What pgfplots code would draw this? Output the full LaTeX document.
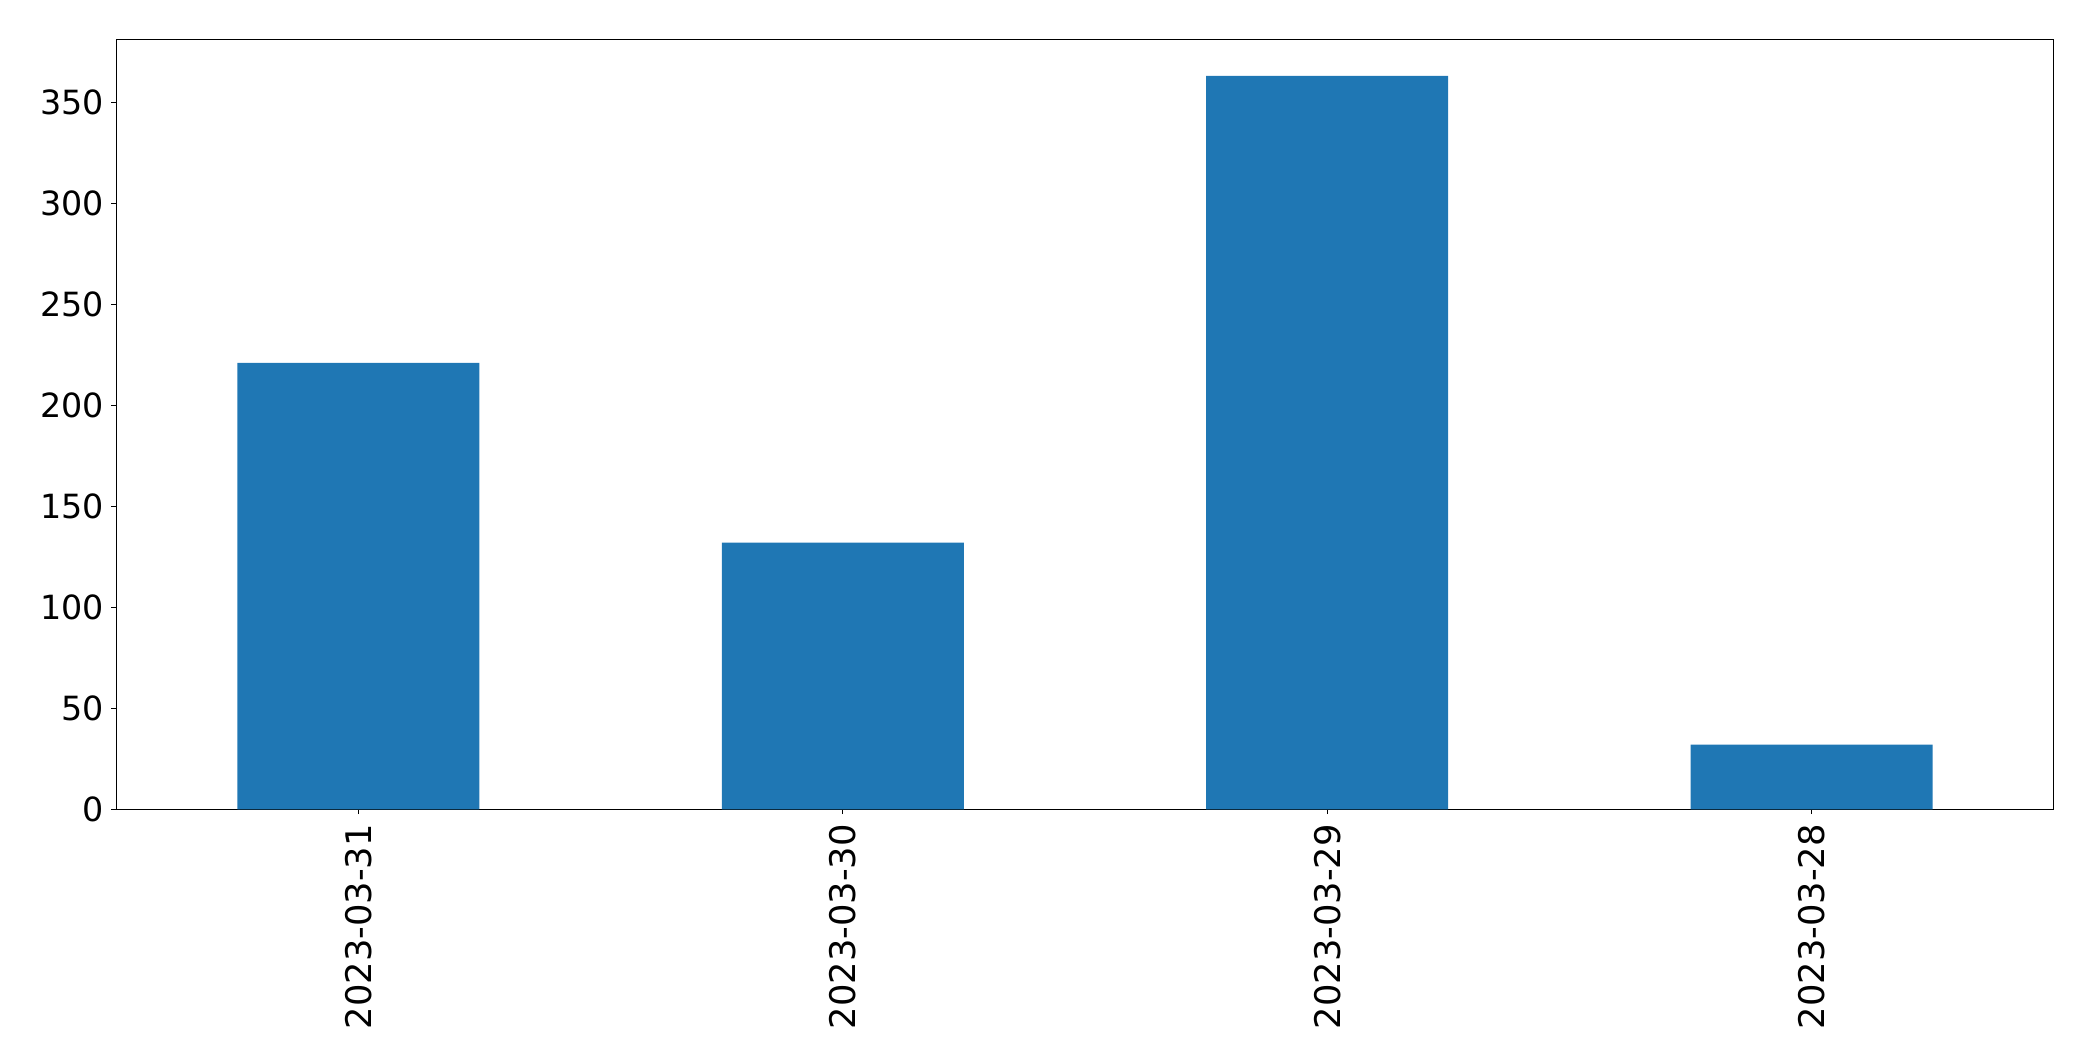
\documentclass[border=0pt]{standalone}
\usepackage{pgfplots}
\pgfplotsset{compat=1.18}
\usepackage{fontspec}
\setmainfont{DejaVu Sans}
\definecolor{mplblue}{HTML}{1F77B4}
\begin{document}
\begin{tikzpicture}
\useasboundingbox (-83.7pt,-181.2pt) rectangle (1423.2pt,582.7pt);
\begin{axis}[
  at={(0,0)}, anchor=south west,
  scale only axis,
  width=1394.9pt, height=554.4pt,
  xmin=-0.5, xmax=3.5,
  ymin=0, ymax=381.15,
  xtick={0,1,2,3},
  xticklabels={2023-03-31,2023-03-30,2023-03-29,2023-03-28},
  ytick={0,50,100,150,200,250,300,350},
  tick align=outside,
  major tick length=3.5pt,
  axis line style={line width=0.8pt, black},
  every tick/.style={black, line width=0.8pt},
  xtick pos=bottom, ytick pos=left,
  /pgf/number format/assume math mode=true,
  yticklabel style={font=\fontsize{24}{28}\selectfont, inner sep=0pt, anchor=east, xshift=-5pt},
  xticklabel style={font=\fontsize{25.4}{30}\selectfont, rotate=90, anchor=east, inner sep=0pt, xshift=-7pt},
  ybar, bar width=0.5*484*0.72pt,
]
\addplot[fill=mplblue, draw=none, bar shift=0pt] coordinates {(0,221) (1,132) (2,363) (3,32)};
\end{axis}
\end{tikzpicture}
\end{document}
